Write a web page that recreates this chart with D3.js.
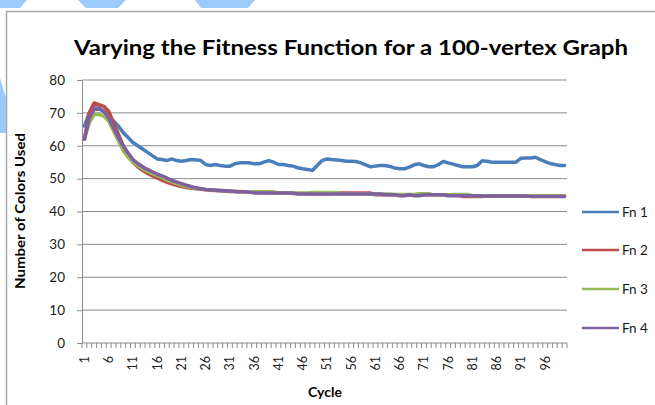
<!DOCTYPE html>
<html><head><meta charset="utf-8">
<script src="https://cdn.jsdelivr.net/npm/d3@7"></script>
<style>html,body{margin:0;padding:0;background:#fff;}svg{display:block;}</style>
</head><body>
<svg id="c" width="655" height="405"></svg>
<script>
const cycles = d3.range(1, 101);
const seriesNames = ["Fn 1", "Fn 2", "Fn 3", "Fn 4"];
const seriesColors = ["#4a7ebb", "#be4b48", "#98b954", "#7d60a0"];
const yTicks = [0, 10, 20, 30, 40, 50, 60, 70, 80];
const xTickLabels = [1, 6, 11, 16, 21, 26, 31, 36, 41, 46, 51, 56, 61, 66, 71, 76, 81, 86, 91, 96];

const fn1 = [66,70,71.5,71.5,70.5,69,67.5,66,64,62.5,61,60,59,58,57,56,55.8,55.5,56,55.5,
55.3,55.5,55.8,55.7,55.5,54.3,54,54.3,54,53.8,53.8,54.5,54.8,54.8,54.8,54.5,54.5,55,55.5,55,
54.3,54.3,54,53.8,53.3,53,52.8,52.5,54,55.5,56,55.8,55.7,55.5,55.3,55.3,55.2,54.8,54.2,53.6,
53.8,54,54,53.7,53.2,53,53,53.5,54.2,54.5,54,53.6,53.6,54.3,55.2,54.8,54.4,54,53.6,53.6,
53.6,54,55.4,55.3,55,55,55,55,55,55,56.2,56.3,56.3,56.5,55.8,55.2,54.6,54.3,54,54];
const fn2 = [62,70,73,72.5,72,70.5,67,63.5,60,57,55,53.6,52.5,51.6,50.9,50.2,49.5,48.9,48.4,48,
47.6,47.3,47.1,46.9,46.8,46.6,46.5,46.4,46.3,46.2,46.1,46.1,46,46,45.9,45.9,45.8,45.8,45.7,45.7,
45.7,45.6,45.6,45.5,45.5,45.5,45.4,45.4,45.4,45.4,45.4,45.4,45.6,45.6,45.6,45.6,45.6,45.6,45.6,45.6,
45.1,45.1,45.1,45.1,45.1,45.1,45.1,45.1,45.1,45.1,45.1,45.1,45.1,45.1,45.1,45.1,45.1,45.1,44.6,44.6,
44.6,44.6,44.6,44.7,44.7,44.7,44.7,44.7,44.7,44.7,44.7,44.7,44.7,44.7,44.7,44.7,44.7,44.7,44.7,44.7];
const fn3 = [62,67,69.5,69.5,69,67.5,64.5,61.5,58.5,56.5,55,54,53,52.2,51.5,51,50.3,49.6,49,48.5,
48,47.6,47.3,47.1,46.9,46.7,46.6,46.5,46.4,46.3,46.2,46.1,46.1,46,46,46,46,46,46,46,
45.6,45.6,45.6,45.6,45.6,45.6,45.6,45.8,45.8,45.8,45.8,45.8,45.8,45.3,45.3,45.3,45.3,45.3,45.3,45.3,
45.3,45.3,45.3,45.3,45.2,45.2,45.2,45.2,45.2,45.4,45.4,45.4,45,45,45,45,45.2,45.2,45.2,45.2,
44.8,44.8,44.8,44.8,44.8,44.8,44.8,44.8,44.8,44.8,44.8,44.8,44.8,44.8,44.8,44.8,44.8,44.8,44.8,44.8];
const fn4 = [62,68.5,71,71.2,70.5,68.5,65.5,62.5,60,57.8,55.8,54.6,53.6,52.8,52.1,51.4,50.8,50.2,49.5,49,
48.5,48,47.6,47.2,46.9,46.7,46.6,46.5,46.4,46.3,46.2,46.1,46,46,45.9,45.6,45.6,45.6,45.6,45.6,
45.6,45.6,45.6,45.6,45.3,45.3,45.3,45.3,45.3,45.3,45.3,45.3,45.3,45.3,45.3,45.3,45.3,45.3,45.3,45.3,
45.3,45.3,45.1,45.1,45.1,44.8,44.8,45.1,44.8,44.8,45.1,45.1,45.1,45.1,45.1,44.8,44.8,44.8,44.8,44.8,
44.8,44.8,44.7,44.7,44.7,44.7,44.7,44.7,44.7,44.7,44.7,44.7,44.6,44.6,44.6,44.6,44.6,44.6,44.6,44.6];
const seriesData = [fn1, fn2, fn3, fn4];

const FONT = "Lato, 'Open Sans', sans-serif";
const svg = d3.select("#c");

// decorative light-blue shapes and frame
const deco = [
  [[0,0],[27,0],[20,8],[0,8]],
  [[78,0],[126,0],[118,8],[86,8]],
  [[195,0],[255,0],[248,8],[201,8]],
  [[0,78],[6,98],[6,133],[0,133]]
];
svg.selectAll("polygon.deco").data(deco).join("polygon")
  .attr("class","deco").attr("points", d => d.map(p => p.join(",")).join(" "))
  .attr("fill", "#9ccbfb");
svg.append("path").attr("d","M6.5,405 V11.5 H655").attr("fill","none")
  .attr("stroke","#a6a6a6").attr("stroke-width",1.5);

const pL = 82, pR = 567, pT = 80, pB = 343;
const x = d3.scaleBand().domain(cycles).range([pL, pR]);
const y = d3.scaleLinear().domain([0, 80]).range([pB, pT]);
const xc = d => x(d) + x.bandwidth() / 2;

// gridlines
svg.append("g").selectAll("line").data(yTicks.filter(v => v > 0)).join("line")
  .attr("x1", pL).attr("x2", pR).attr("y1", d => y(d)).attr("y2", d => y(d))
  .attr("stroke", "#8c8c8c").attr("stroke-width", 1);

// y axis
const yAxis = svg.append("g").attr("transform", `translate(${pL},0)`)
  .call(d3.axisLeft(y).tickValues(yTicks).tickSize(5).tickPadding(12));
yAxis.select(".domain").attr("stroke", "#8c8c8c");
yAxis.selectAll(".tick line").attr("stroke", "#8c8c8c");
yAxis.selectAll("text").attr("font-family", FONT).attr("font-size", 13.5).attr("fill", "#1a1a1a");

// x axis: tick marks at category boundaries
const xg = svg.append("g");
xg.append("line").attr("x1", pL).attr("x2", pR).attr("y1", pB).attr("y2", pB)
  .attr("stroke", "#8c8c8c");
xg.selectAll("line.tk").data(d3.range(0, 101)).join("line").attr("class","tk")
  .attr("x1", i => pL + i * x.step()).attr("x2", i => pL + i * x.step())
  .attr("y1", pB).attr("y2", pB + 5).attr("stroke", "#8c8c8c");
xg.selectAll("text").data(xTickLabels).join("text")
  .attr("transform", d => `translate(${xc(d)},${pB + 13}) rotate(-90)`)
  .attr("text-anchor", "end").attr("dy", "0.35em")
  .attr("font-family", FONT).attr("font-size", 12.5).attr("fill", "#1a1a1a")
  .text(d => d);

// lines
const line = d3.line().x((d, i) => xc(cycles[i])).y(d => y(d)).curve(d3.curveLinear);
svg.append("g").selectAll("path").data(seriesData).join("path")
  .attr("d", d => line(d)).attr("fill", "none")
  .attr("stroke", (d, i) => seriesColors[i]).attr("stroke-width", 3.5)
  .attr("stroke-linejoin", "round").attr("stroke-linecap", "round");

// title
svg.append("text").attr("x", 74).attr("y", 55)
  .attr("font-family", FONT).attr("font-weight", "bold").attr("font-size", 21)
  .attr("fill", "#000").attr("textLength", 554).attr("lengthAdjust", "spacingAndGlyphs")
  .text("Varying the Fitness Function for a 100-vertex Graph");

// axis titles
svg.append("text").attr("transform", "translate(25,211) rotate(-90)")
  .attr("text-anchor", "middle").attr("font-family", FONT).attr("font-weight", "bold")
  .attr("font-size", 13).attr("fill", "#000")
  .attr("textLength", 156).attr("lengthAdjust", "spacingAndGlyphs")
  .text("Number of Colors  Used");
svg.append("text").attr("x", 325).attr("y", 397).attr("text-anchor", "middle")
  .attr("font-family", FONT).attr("font-weight", "bold").attr("font-size", 14)
  .attr("fill", "#000").text("Cycle");

// legend
const legY = [212, 250, 289, 328];
const lg = svg.append("g").selectAll("g").data(seriesNames).join("g")
  .attr("transform", (d, i) => `translate(582,${legY[i]})`);
lg.append("line").attr("x1", 0).attr("x2", 37).attr("y1", 0).attr("y2", 0)
  .attr("stroke", (d, i) => seriesColors[i]).attr("stroke-width", 2.5);
lg.append("text").attr("x", 40).attr("dy", "0.35em").attr("font-family", FONT)
  .attr("font-size", 13.5).attr("fill", "#1a1a1a").text(d => d);
</script>
</body></html>
